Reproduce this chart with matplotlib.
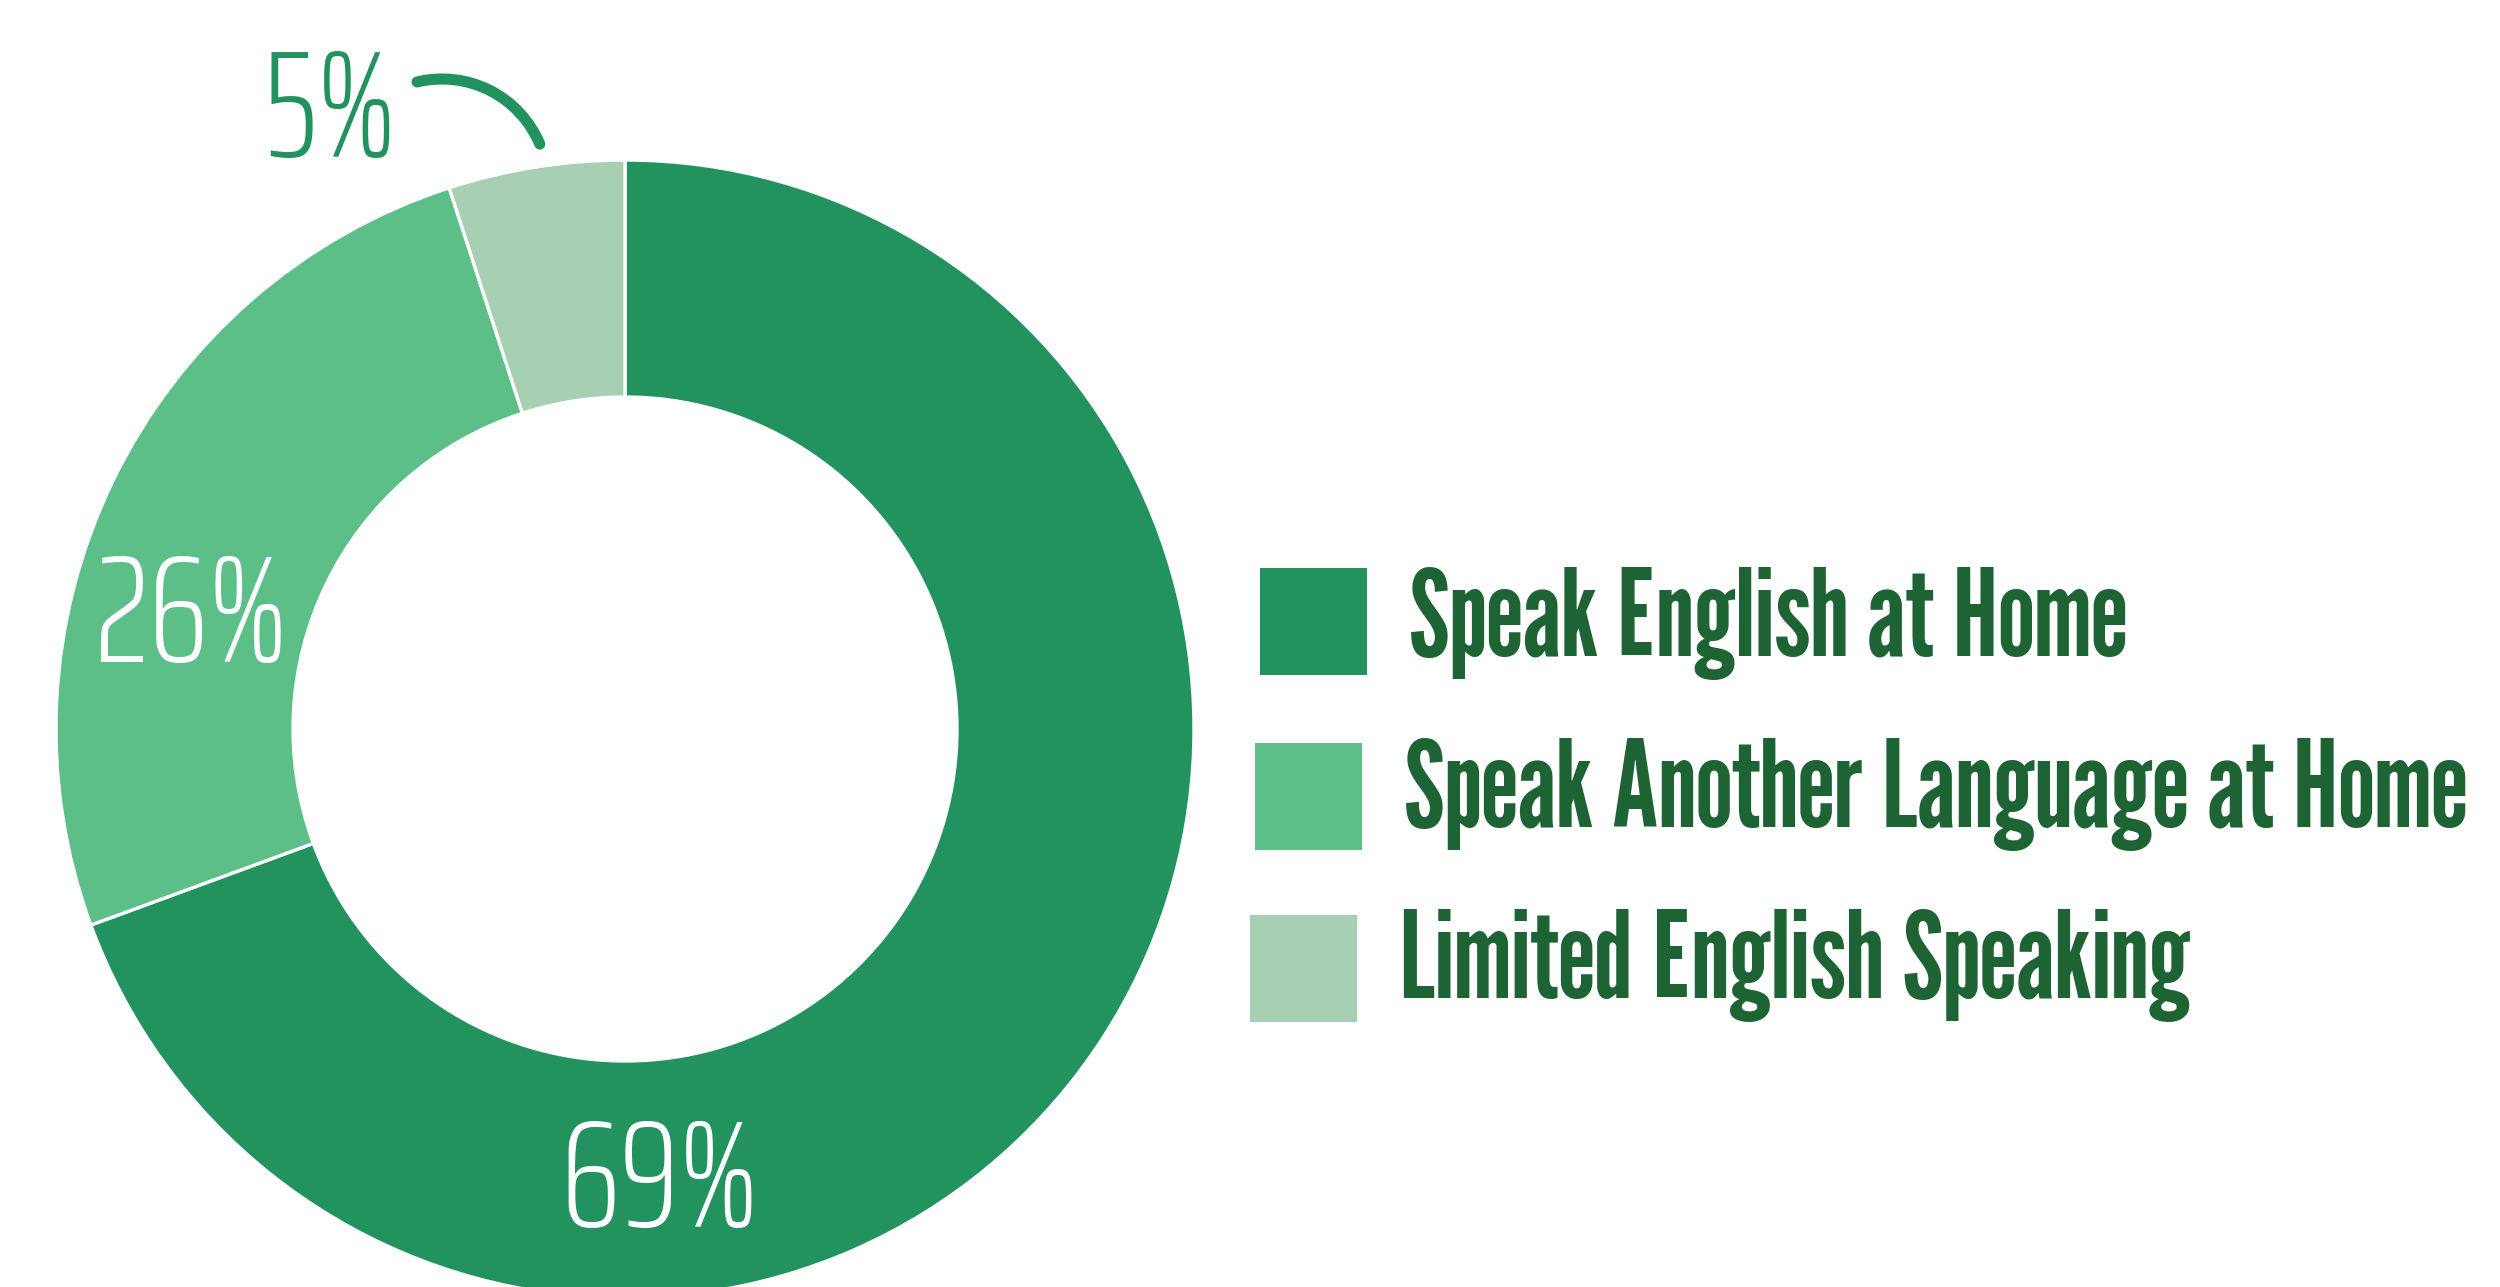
import matplotlib
matplotlib.use("Agg")
import matplotlib.pyplot as plt
from matplotlib.patches import Rectangle, Arc

categories = ["Speak English at Home", "Speak Another Language at Home", "Limited English Speaking"]
values = [69.4, 25.6, 5.0]
colors = ["#22935e", "#5cbf88", "#a6cfb3"]

W, H = 2500, 1287
fig = plt.figure(figsize=(W / 100, H / 100), dpi=100)
ax = fig.add_axes([0, 0, 1, 1])

# donut, pixel units with y pointing up
cx, cy = 625, H - 729
r_out, r_in = 569, 332
ax.pie(values, colors=colors, startangle=90, counterclock=False,
       center=(cx, cy), radius=r_out,
       wedgeprops=dict(width=r_out - r_in, edgecolor="white", linewidth=2.4))
ax.set_xlim(0, W)
ax.set_ylim(0, H)
ax.set_aspect("auto")
ax.axis("off")

# percentage labels (x centre, baseline y from top)
pct_font = dict(family="Saira ExtraCondensed", weight=275, fontsize=110)
label_pos = [(660, 1227, "white"), (192, 662, "white"), (330, 157, colors[0])]
for v, (x, yb, c) in zip(values, label_pos):
    ax.text(x, H - yb, f"{v:.0f}%", ha="center", va="baseline", color=c, **pct_font)

# little callout arc next to the 5% label
ax.add_patch(Arc((442, H - 185), 212, 212, theta1=22.7, theta2=103.6,
                 color=colors[0], linewidth=8, capstyle="round"))

# legend
sq = 107
legend_rows = [(1260, 568, 656), (1255, 743, 827), (1250, 915, 998)]
for name, c, (x0, ytop, base) in zip(categories, colors, legend_rows):
    ax.add_patch(Rectangle((x0, H - ytop - sq), sq, sq, facecolor=c, edgecolor="none"))
    ax.text(x0 + sq + 42, H - base, name, ha="left", va="baseline",
            family="League Gothic", fontsize=87, color="#1d6334")

fig.savefig("out.png", dpi=100)
